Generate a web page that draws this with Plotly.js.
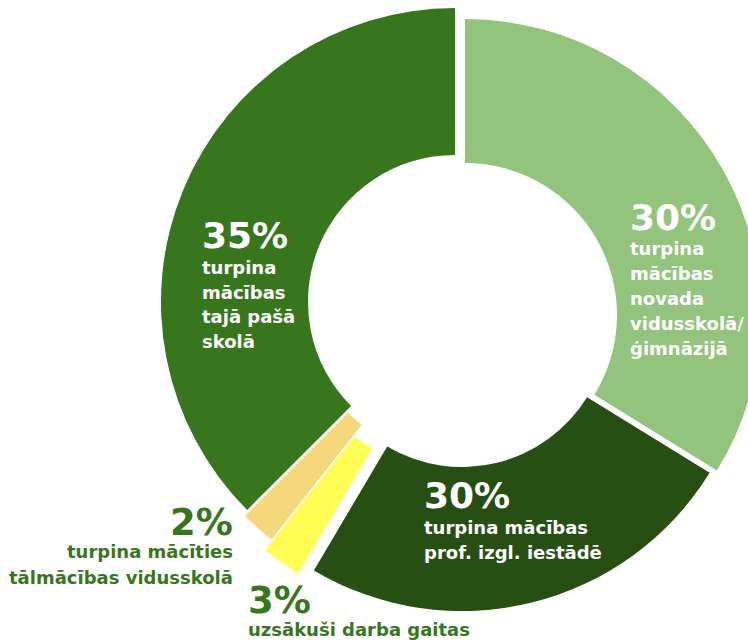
<!DOCTYPE html>
<html><head><meta charset="utf-8">
<script src="https://cdn.plot.ly/plotly-3.0.1.min.js"></script>
<style>
html,body{margin:0;padding:0;overflow:hidden;width:748px;height:640px;background:#fff}
#chart{position:absolute;left:-40px;top:-40px;width:848px;height:720px}
</style>
</head><body><div id="chart"></div>
<script>
// ---- data ----
const categories = [
  "turpina mācības novada vidusskolā/ģimnāzijā",
  "turpina mācības prof. izgl. iestādē",
  "uzsākuši darba gaitas",
  "turpina mācīties tālmācības vidusskolā",
  "turpina mācības tajā pašā skolā"
];
// angular share of each slice as drawn in the picture (clockwise from 12 o'clock)
const shares = [33.8, 24.7, 2.1, 1.9, 37.5];
const pctLabels = ["30%", "30%", "3%", "2%", "35%"];
const descLines = [
  ["turpina", "mācības", "novada", "vidusskolā/", "ģimnāzijā"],
  ["turpina mācības", "prof. izgl. iestādē"],
  ["uzsākuši darba gaitas"],
  ["turpina mācīties", "tālmācības vidusskolā"],
  ["turpina", "mācības", "tajā pašā", "skolā"]
];

// ---- styling / geometry (screen px) ----
const colors = ["#93c47d", "#274e13", "#ffff55", "#f6d87c", "#38761d"];
const sliceGeom = [ // [cx, cy, R, r]
  [465, 315, 296, 152],
  [462, 320, 291, 147],
  [454, 310, 306, 161],
  [455, 306, 297, 151],
  [455, 302, 294, 147]
];
// [x, pctBaseline, pctSize, firstDescBaseline, pitch, anchor, color]
const labelGeom = [
  [629, 230, 36, 255, 25, 'left', '#ffffff'],
  [423, 508, 36, 534, 24.5, 'left', '#ffffff'],
  [247, 613, 37, 636, 25, 'left', '#38761d'],
  [234, 535, 37, 558, 25.5, 'right', '#38761d'],
  [201, 248, 36, 274, 24.5, 'left', '#ffffff']
];

const OX = 40, OY = 40, W = 848, H = 720;
const FONT = 'DejaVu Sans';
const DESC_SIZE = 18;

const traces = sliceGeom.map((g, i) => {
  const [cx, cy, R, r] = g;
  return {
    type: 'pie',
    values: shares,
    labels: categories,
    sort: false,
    direction: 'clockwise',
    rotation: 0,
    hole: r / R,
    textinfo: 'none',
    hoverinfo: 'skip',
    showlegend: false,
    marker: {
      colors: colors.map((c, j) => j === i ? c : 'rgba(0,0,0,0)'),
      line: {width: 0}
    },
    domain: {
      x: [(cx - R + OX) / W, (cx + R + OX) / W],
      y: [1 - (cy + R + OY) / H, 1 - (cy - R + OY) / H]
    }
  };
});

function ann(text, X, baseY, fs, color, align) {
  return {
    text: '<b>' + text + '</b>',
    x: (X + OX) / W,
    y: 1 - ((baseY - 0.346 * fs) + OY) / H,
    xref: 'paper', yref: 'paper',
    xanchor: align, yanchor: 'middle', align: align,
    showarrow: false, borderpad: 0,
    font: {family: FONT, size: fs, color: color}
  };
}

const annotations = [];
labelGeom.forEach((lg, i) => {
  const [x, pb, ps, db, pitch, anchor, col] = lg;
  annotations.push(ann(pctLabels[i], x, pb, ps, col, anchor));
  descLines[i].forEach((line, k) => {
    annotations.push(ann(line, x, db + k * pitch, DESC_SIZE, col, anchor));
  });
});

Plotly.newPlot('chart', traces, {
  width: W, height: H,
  margin: {l: 0, r: 0, t: 0, b: 0},
  paper_bgcolor: '#ffffff',
  annotations: annotations
}, {displayModeBar: false, staticPlot: true});
</script>
</body></html>
